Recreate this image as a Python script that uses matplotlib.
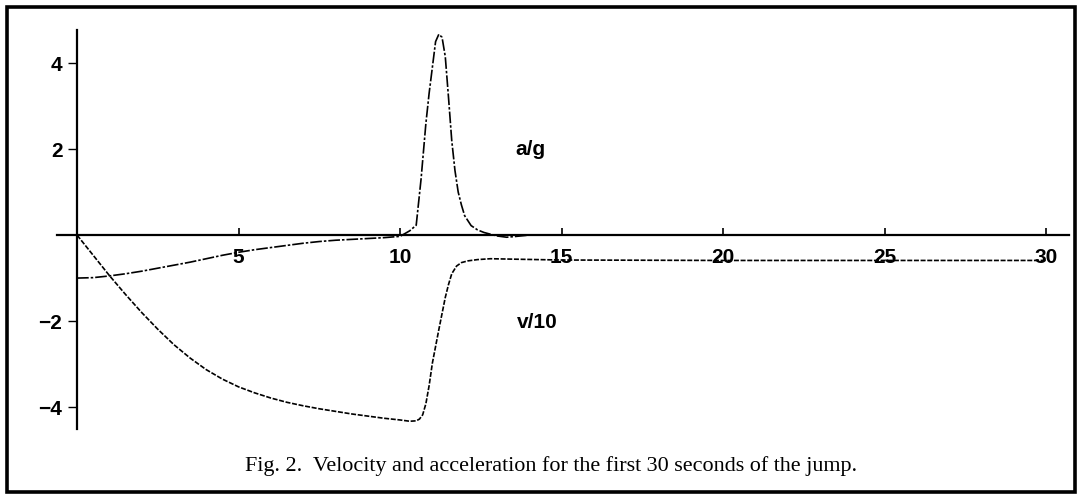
import matplotlib
matplotlib.use('Agg')
import matplotlib.pyplot as plt
from matplotlib.patches import Rectangle

# Ускорение a/g (первые секунды прыжка)
t_acc = [0, 0.5, 1, 1.5, 2, 2.5, 3, 3.5, 4, 4.5, 5, 5.5, 6, 6.5, 7, 7.5, 8, 8.5,
         9, 9.5, 10, 10.3, 10.5, 10.65, 10.8, 10.9, 11.0, 11.1, 11.2, 11.3, 11.4,
         11.5, 11.6, 11.7, 11.8, 11.9, 12.0, 12.2, 12.4, 12.6, 12.8, 13.0, 13.3,
         13.6, 14.0]
acc = [-1.0, -0.99, -0.95, -0.9, -0.84, -0.77, -0.70, -0.63, -0.55, -0.47, -0.40,
       -0.34, -0.29, -0.24, -0.19, -0.15, -0.12, -0.10, -0.08, -0.06, -0.03, 0.1,
       0.23, 1.3, 2.6, 3.3, 3.9, 4.5, 4.67, 4.6, 4.15, 3.2, 2.2, 1.5, 1.0, 0.7,
       0.45, 0.22, 0.12, 0.06, 0.02, -0.02, -0.05, -0.03, 0.0]

# Скорость v/10
t_vel = [0, 0.5, 1, 1.5, 2, 2.5, 3, 3.5, 4, 4.5, 5, 5.5, 6, 6.5, 7, 7.5, 8, 8.5,
         9, 9.5, 10, 10.3, 10.5, 10.6, 10.7, 10.8, 10.9, 11.0, 11.2, 11.4, 11.5,
         11.6, 11.75, 11.9, 12.1, 12.4, 12.8, 13.5, 15, 20, 25, 30]
vel = [0, -0.47, -0.94, -1.38, -1.8, -2.19, -2.55, -2.86, -3.13, -3.35, -3.53,
       -3.67, -3.79, -3.89, -3.97, -4.04, -4.1, -4.16, -4.21, -4.26, -4.3, -4.33,
       -4.32, -4.28, -4.18, -3.92, -3.5, -2.98, -2.2, -1.45, -1.15, -0.9, -0.72,
       -0.64, -0.6, -0.57, -0.55, -0.56, -0.58, -0.59, -0.59, -0.59]

x_ticks = [5, 10, 15, 20, 25, 30]
y_ticks = [-4, -2, 2, 4]
caption = 'Fig. 2.  Velocity and acceleration for the first 30 seconds of the jump.'

fig = plt.figure(figsize=(10.82, 4.99), dpi=100)
ax = fig.add_axes([0.0527, 0.1403, 0.9350, 0.7996])

ax.plot(t_acc, acc, color='black', lw=1.2, linestyle=(0, (7, 1.2, 1.5, 1.2)))
ax.plot(t_vel, vel, color='black', lw=1.2, linestyle=(0, (3, 1)))

ax.set_xlim(-0.62, 30.7)
ax.set_ylim(-4.51, 4.77)

for side in ['top', 'right']:
    ax.spines[side].set_visible(False)
ax.spines['left'].set_position(('data', 0))
ax.spines['bottom'].set_position(('data', 0))
ax.spines['left'].set_linewidth(1.6)
ax.spines['bottom'].set_linewidth(1.6)

ax.set_xticks(x_ticks)
ax.set_yticks(y_ticks)
ax.tick_params(axis='x', direction='in', length=5, width=1.2, pad=9,
               labelsize=15)
ax.tick_params(axis='y', direction='out', length=6.5, width=1.0, pad=4,
               labelsize=15)
for lbl in ax.get_xticklabels() + ax.get_yticklabels():
    lbl.set_fontfamily('Liberation Sans')
    lbl.set_fontweight('bold')

ax.text(14.05, 1.98, 'a/g', fontsize=15, family='Liberation Sans',
        fontweight='bold', ha='center', va='center')
ax.text(14.25, -2.03, 'v/10', fontsize=15, family='Liberation Sans',
        fontweight='bold', ha='center', va='center')

fig.text(0.509, 0.066, caption, fontsize=15.9, family='Liberation Serif',
         ha='center', va='center')

# рамка вокруг рисунка
fig.patches.append(Rectangle((0.0065, 0.014), 0.987, 0.972, transform=fig.transFigure,
                             fill=False, lw=2.6, edgecolor='black'))

plt.savefig('out.png', dpi=100)
plt.close()
